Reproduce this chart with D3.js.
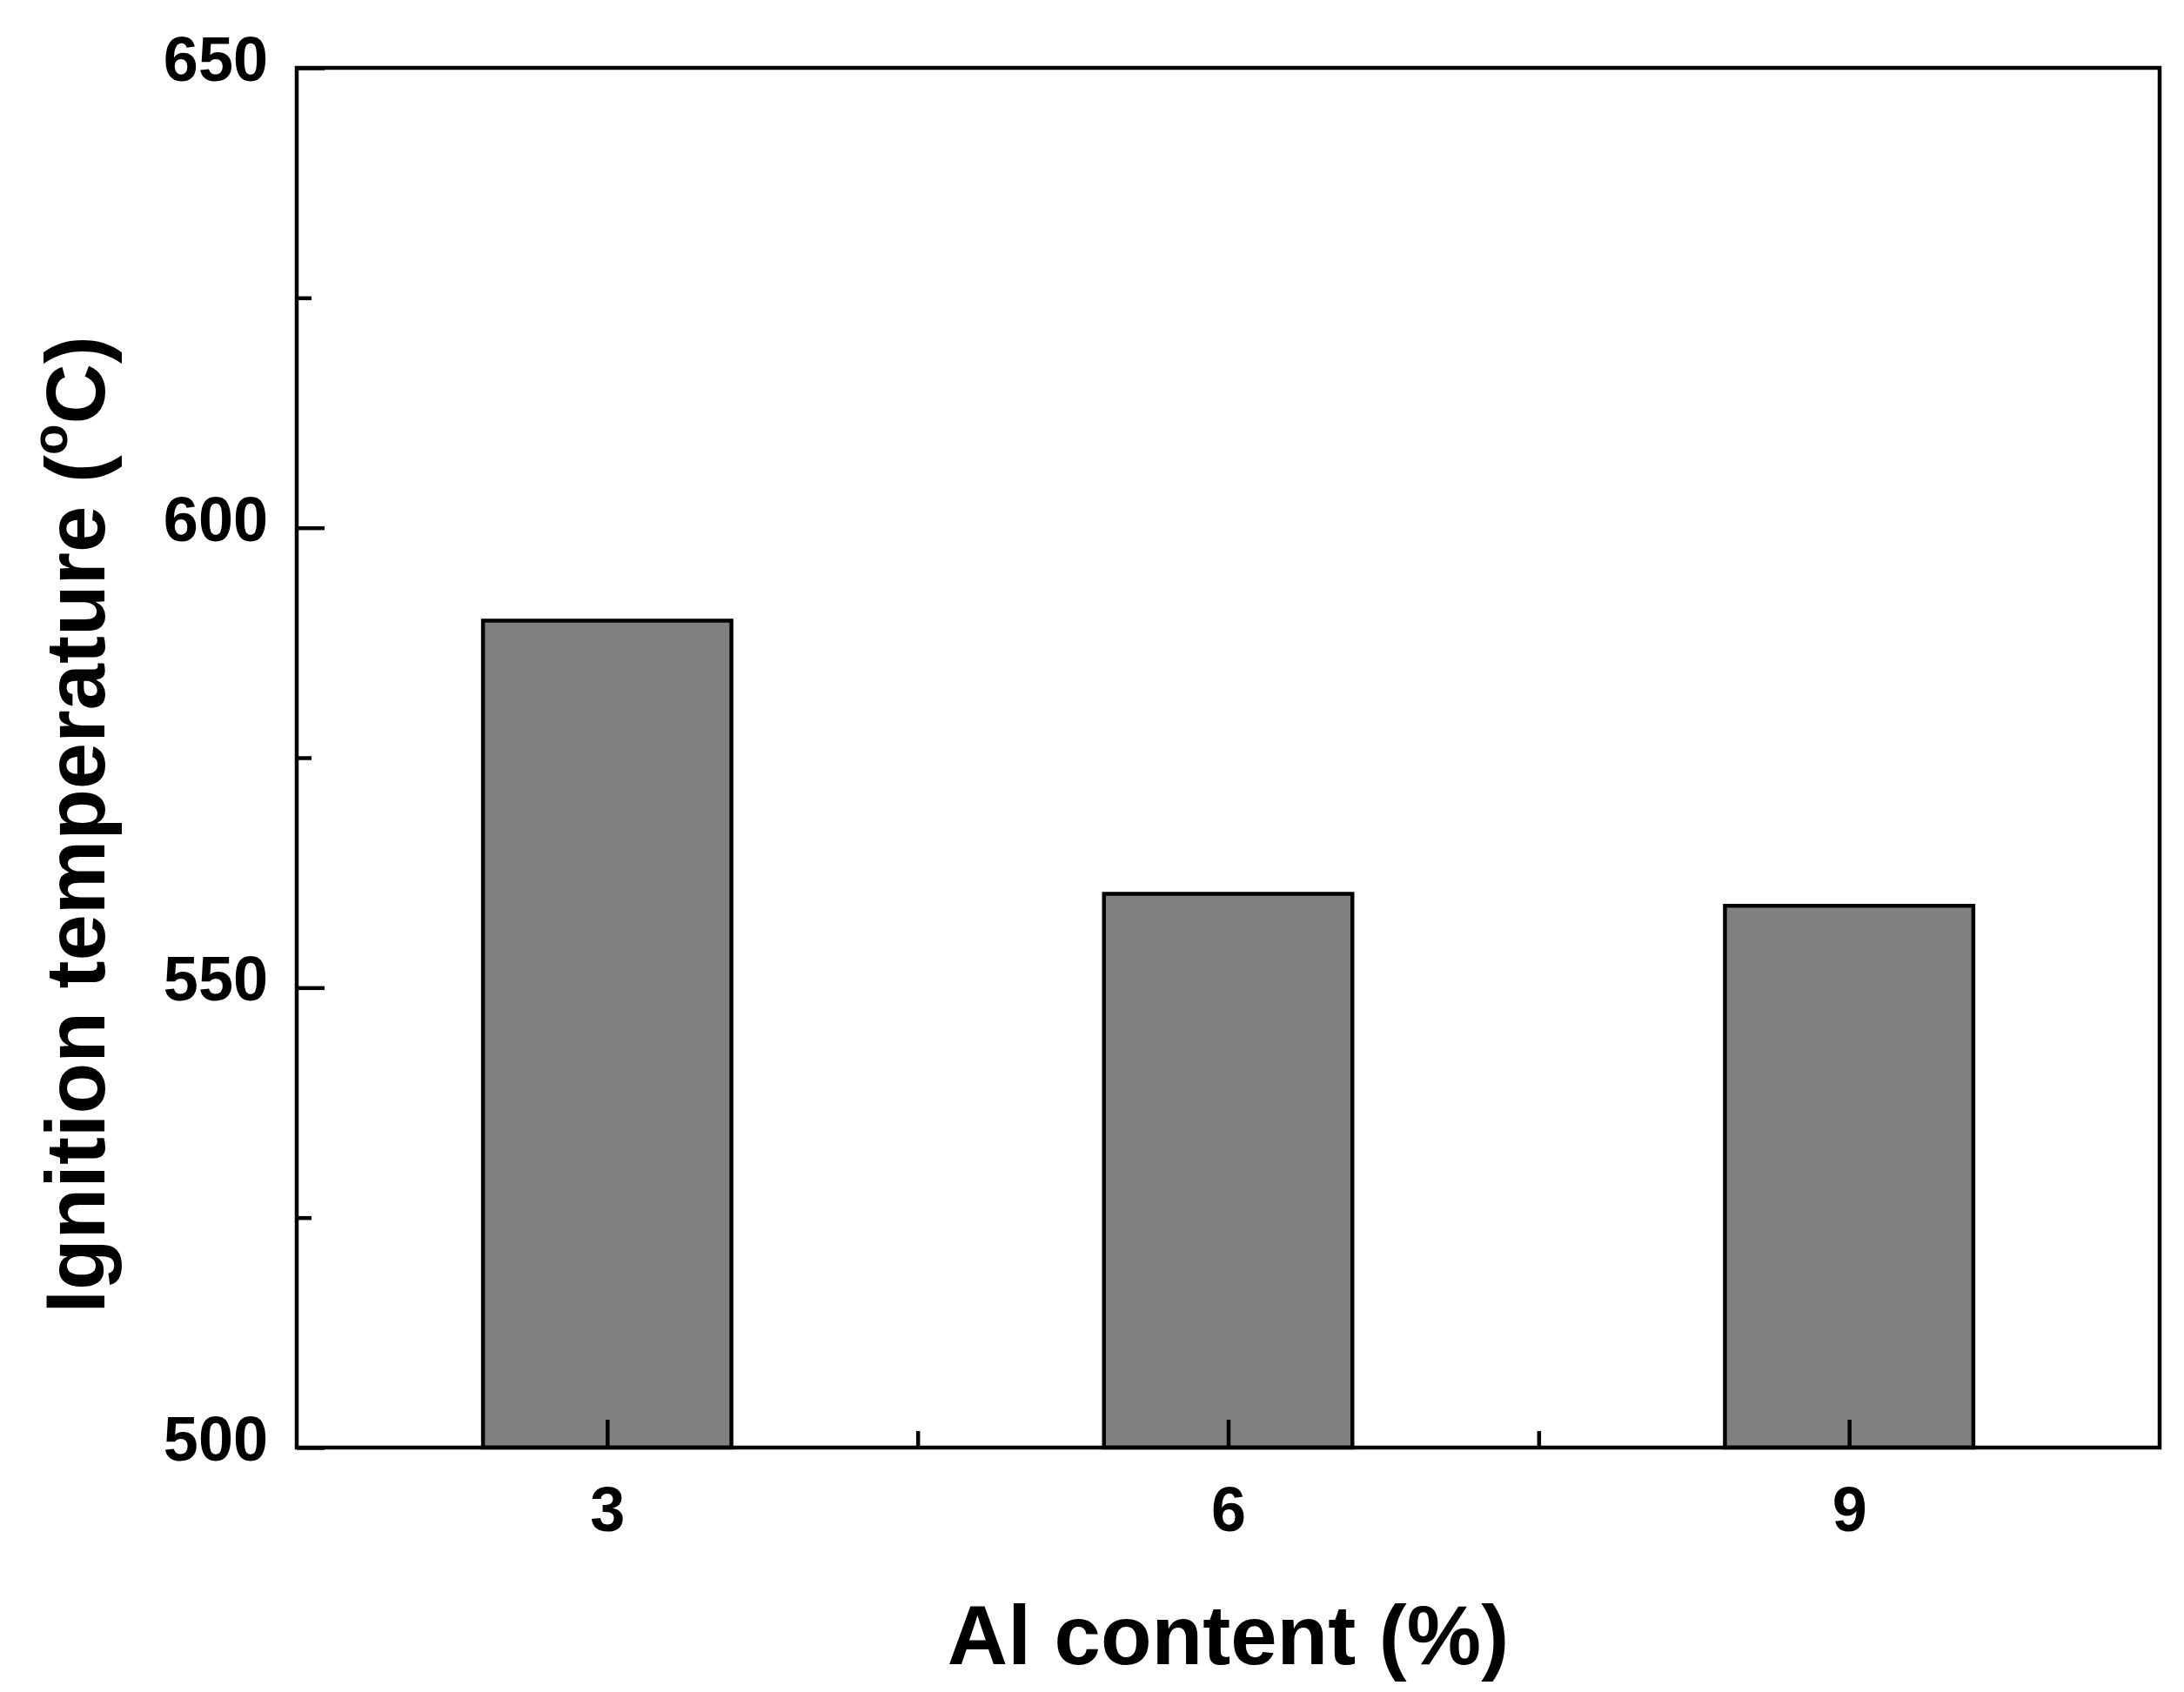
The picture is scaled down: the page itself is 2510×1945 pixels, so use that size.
<!DOCTYPE html>
<html>
<head>
<meta charset="utf-8">
<script src="https://cdn.jsdelivr.net/npm/d3@7"></script>
<style>
  body { margin: 0; background: #fff; }
  text { font-family: "Liberation Sans", Arial, sans-serif; font-weight: bold; fill: #000; }
</style>
</head>
<body>
<svg width="2510" height="1945"></svg>
<script>
// data
var categories = [3, 6, 9];
var ignitionTemp = [589.9, 560.2, 558.9];
var yTicks = [500, 550, 600, 650];
var yMinorTicks = [525, 575, 625];
var xMinorTicks = [4.5, 7.5];

var svg = d3.select("svg");
var margin = {top: 78, right: 28, bottom: 281, left: 341};
var width = +svg.attr("width") - margin.left - margin.right;
var height = +svg.attr("height") - margin.top - margin.bottom;

var g = svg.append("g")
  .attr("transform", "translate(" + margin.left + "," + margin.top + ")");

var xScale = d3.scaleLinear().domain([1.5, 10.5]).range([0, width]);
var yScale = d3.scaleLinear().domain([500, 650]).range([height, 0]);
var barW = 1.2;

g.selectAll(".bar")
  .data(categories).enter()
  .append("rect")
  .attr("class", "bar")
  .attr("x", function(d) { return xScale(d - barW / 2); })
  .attr("width", function() { return xScale(barW) - xScale(0); })
  .attr("y", function(d, i) { return yScale(ignitionTemp[i]); })
  .attr("height", function(d, i) { return height - yScale(ignitionTemp[i]); })
  .attr("fill", "#808080")
  .attr("stroke", "#000")
  .attr("stroke-width", 4.5);

// axes, ticks pointing inward
var axisYG = g.append("g")
  .call(d3.axisLeft(yScale).tickValues(yTicks).tickSize(-32).tickPadding(33).tickFormat(d3.format("d")));
var axisYMinor = g.append("g")
  .call(d3.axisLeft(yScale).tickValues(yMinorTicks).tickSize(-17).tickFormat(""));
var axisXG = g.append("g")
  .attr("transform", "translate(0," + height + ")")
  .call(d3.axisBottom(xScale).tickValues(categories).tickSize(-32).tickPadding(45).tickFormat(d3.format("d")));
var axisXMinor = g.append("g")
  .attr("transform", "translate(0," + height + ")")
  .call(d3.axisBottom(xScale).tickValues(xMinorTicks).tickSize(-19).tickFormat(""));

[axisYG, axisYMinor, axisXG, axisXMinor].forEach(function(a) {
  a.select(".domain").remove();
  a.selectAll("line").attr("stroke", "#000").attr("stroke-width", 4.5);
  a.selectAll("text").attr("font-size", 72).attr("font-family", null).attr("fill", "#000");
});
axisYG.selectAll("text").attr("dy", "0.2em");

// frame
g.append("rect")
  .attr("width", width)
  .attr("height", height)
  .attr("fill", "none")
  .attr("stroke", "#000")
  .attr("stroke-width", 4.5);

// titles
svg.append("text")
  .attr("x", margin.left + width / 2)
  .attr("y", 1913)
  .attr("text-anchor", "middle")
  .attr("font-size", 96)
  .text("Al content (%)");

var yt = svg.append("text")
  .attr("transform", "translate(120,948) rotate(-90)")
  .attr("text-anchor", "middle")
  .attr("font-size", 96);
yt.append("tspan").text("Ignition temperature (");
yt.append("tspan").attr("font-size", 58).attr("dy", "-0.75em").text("o");
yt.append("tspan").attr("dy", "0.45em").text("C)");
</script>
</body>
</html>
